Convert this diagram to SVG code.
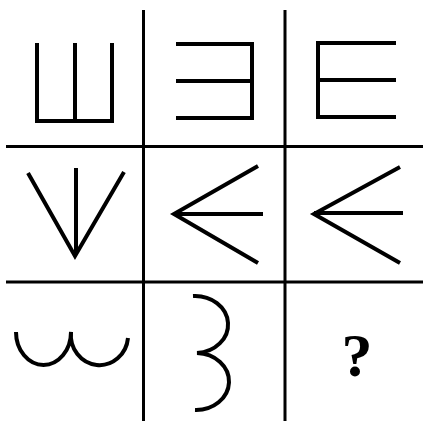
<svg xmlns="http://www.w3.org/2000/svg" width="423" height="421" viewBox="0 0 423 421">
<style>
.grid{stroke:#000;stroke-width:3;fill:none}
.fig{stroke:#000;stroke-width:4;fill:none;stroke-linecap:butt;stroke-linejoin:miter}
.q{font-family:"Liberation Serif",serif;font-weight:bold;font-size:62px;fill:#000}
</style>
<rect width="423" height="421" fill="#fff"/>
<g id="connectors">
<line class="grid" x1="143.5" y1="10" x2="143.5" y2="421"/>
<line class="grid" x1="285" y1="10" x2="285" y2="421"/>
<line class="grid" x1="6" y1="146.5" x2="423" y2="146.5"/>
<line class="grid" x1="6" y1="282" x2="423" y2="282"/>
</g>
<g id="cell1"><path class="fig" d="M37,43 V121 H112 V43 M75,43 V121"/></g>
<g id="cell2"><path class="fig" d="M176,44 H252 V118 H176 M176,81 H252"/></g>
<g id="cell3"><path class="fig" d="M396,43 H318 V117 H396 M318,80 H396"/></g>
<g id="cell4"><path class="fig" d="M28,173 L75,256 L124,172 M76,168 V254"/></g>
<g id="cell5"><path class="fig" d="M258,166 L174,214 L258,263 M174,214 H263"/></g>
<g id="cell6"><path class="fig" d="M400,167 L314,214 L400,263 M314,213 H403"/></g>
<g id="cell7"><path class="fig" d="M16,332 A27.5,33 0 0 0 71,332 A28.5,30 0 0 0 128,338"/></g>
<g id="cell8"><path class="fig" d="M193,296 A33,28.5 0 0 1 197,353 A33,28.5 0 0 1 195,410"/></g>
<g id="cell9"><text class="q" x="357" y="376" text-anchor="middle">?</text></g>
</svg>
